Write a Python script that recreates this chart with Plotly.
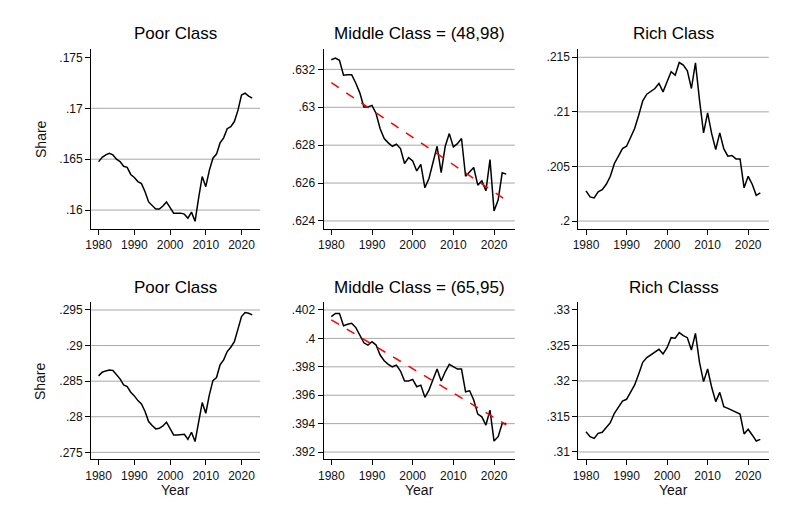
import numpy as np
import plotly.graph_objects as go

years = list(range(1980, 2024))

poor_top = [.16476, .16519, .16542, .16558, .16542, .16500, .16476, .16430, .16420, .16350,
            .16320, .16280, .16260, .16180, .16080, .16040, .16010, .16010, .16040, .16080,
            .16020, .15970, .15970, .15970, .15960, .15920, .15980, .15890, .16120, .16330,
            .16230, .16390, .16510, .16550, .16660, .16710, .16800, .16820, .16870, .16980,
            .17130, .17150, .17120, .17100]

middle_top = [.63251, .63260, .63248, .63169, .63172, .63172, .63128, .63076, .63002, .63002,
              .63010, .62967, .62887, .62835, .62812, .62794, .62805, .62782, .62703, .62734,
              .62717, .62664, .62699, .62575, .62624, .62706, .62794, .62655, .62794, .62861,
              .62791, .62808, .62835, .62636, .62662, .62682, .62589, .62611, .62559, .62724,
              .62453, .62510, .62654, .62647]

rich_top = [.20276, .20221, .20212, .20267, .20288, .20337, .20410, .20527, .20594, .20664,
            .20685, .20762, .20847, .20969, .21101, .21162, .21189, .21214, .21260, .21183,
            .21275, .21367, .21336, .21452, .21428, .21376, .21214, .21449, .21107, .20808,
            .20991, .20801, .20655, .20808, .20661, .20594, .20600, .20569, .20569, .20304,
            .20410, .20337, .20236, .20258]

poor_bot = [.28574, .28625, .28644, .28658, .28649, .28588, .28532, .28447, .28424, .28344,
            .28293, .28227, .28180, .28073, .27932, .27876, .27829, .27838, .27871, .27923,
            .27829, .27745, .27745, .27750, .27754, .27684, .27782, .27651, .27932, .28199,
            .28049, .28307, .28508, .28551, .28728, .28799, .28916, .28977, .29056, .29244,
            .29408, .29464, .29454, .29431]

middle_bot = [.40153, .40176, .40176, .40089, .40099, .40106, .40077, .40023, .39969, .39953,
              .39977, .39953, .39883, .39843, .39817, .39800, .39812, .39770, .39700, .39700,
              .39711, .39660, .39671, .39585, .39636, .39711, .39784, .39700, .39765, .39817,
              .39800, .39784, .39784, .39624, .39631, .39566, .39467, .39448, .39390, .39495,
              .39277, .39308, .39401, .39401]

rich_bot = [.31286, .31216, .31192, .31263, .31277, .31347, .31413, .31545, .31629, .31718,
            .31742, .31836, .31944, .32099, .32263, .32329, .32366, .32404, .32446, .32380,
            .32469, .32610, .32601, .32681, .32638, .32610, .32437, .32671, .32263, .31991,
            .32169, .31911, .31709, .31840, .31638, .31615, .31592, .31568, .31535, .31254,
            .31320, .31240, .31155, .31178]

titles = ["Poor Class", "Middle Class = (48,98)", "Rich Class",
          "Poor Class", "Middle Class = (65,95)", "Rich Classs"]

x_ticks = [1980, 1990, 2000, 2010, 2020]
x_ticktext = ["1980", "1990", "2000", "2010", "2020"]

y_ticks = [
    [.16, .165, .17, .175],
    [.624, .626, .628, .63, .632],
    [.2, .205, .21, .215],
    [.275, .28, .285, .29, .295],
    [.392, .394, .396, .398, .4, .402],
    [.31, .315, .32, .325, .33],
]
y_ticktext = [
    [".16", ".165", ".17", ".175"],
    [".624", ".626", ".628", ".63", ".632"],
    [".2", ".205", ".21", ".215"],
    [".275", ".28", ".285", ".29", ".295"],
    [".392", ".394", ".396", ".398", ".4", ".402"],
    [".31", ".315", ".32", ".325", ".33"],
]
grid_vals = [
    [.16, .165, .17],
    [.624, .626, .628, .63, .632],
    [.2, .205, .21, .215],
    [.275, .28, .285, .29, .295],
    [.392, .394, .396, .398, .4, .402],
    [.31, .315, .32, .325],
]

series = [poor_top, middle_top, rich_top, poor_bot, middle_bot, rich_bot]
show_fit = [False, True, False, False, True, False]

# layout geometry in screen pixels; page body has an 8px margin
OFF = 8
W, H = 777, 513
x_pix = [(85.7, 256.0), (320.0, 512.7), (576.7, 768.7)]
x_rng = [(1977.9, 2025.2), (1978.1, 2025.1), (1978.1, 2025.1)]
y_pix = [(49.3, 228.7), (302.3, 459.3)]
y_rng = [(.15817, .17580), (.62359, .63306), (.19930, .21573),
         (.27402, .29608), (.39149, .40254), (.30897, .33108)]


def px(v):
    return (v - OFF) / W


def py(v):
    return 1 - (v - OFF) / H


FONT = "Liberation Sans, Arial, sans-serif"
fig = go.Figure()
annotations = []
shapes = []

for i in range(6):
    r, c = divmod(i, 3)
    n = i + 1
    xa = "x" if n == 1 else f"x{n}"
    ya = "y" if n == 1 else f"y{n}"
    fig.add_trace(go.Scatter(x=years, y=series[i], mode="lines",
                             line=dict(color="black", width=1.5),
                             xaxis=xa, yaxis=ya, showlegend=False, hoverinfo="skip"))
    if show_fit[i]:
        b, a = np.polyfit(years, series[i], 1)
        fit = [a + b * yr for yr in years]
        fig.add_trace(go.Scatter(x=years, y=fit, mode="lines",
                                 line=dict(color="red", width=1.5, dash="dash"),
                                 xaxis=xa, yaxis=ya, showlegend=False, hoverinfo="skip"))
    xd = [px(x_pix[c][0]), px(x_pix[c][1])]
    yd = [py(y_pix[r][1]), py(y_pix[r][0])]
    axis_common = dict(showline=True, linecolor="black", linewidth=1,
                       ticks="outside", ticklen=5, tickcolor="black", tickwidth=1,
                       showgrid=False, zeroline=False,
                       tickfont=dict(family=FONT, size=12, color="#111"))
    fig.layout[f"xaxis{'' if n == 1 else n}"] = dict(
        domain=xd, range=list(x_rng[c]), anchor=ya,
        tickvals=x_ticks, ticktext=x_ticktext, **axis_common)
    fig.layout[f"yaxis{'' if n == 1 else n}"] = dict(
        domain=yd, range=list(y_rng[i]), anchor=xa,
        tickvals=y_ticks[i], ticktext=y_ticktext[i], **axis_common)
    for g in grid_vals[i]:
        shapes.append(dict(type="line", xref=f"{xa} domain", yref=ya,
                           x0=0, x1=1, y0=g, y1=g, layer="below",
                           line=dict(color="#a8a8a8", width=1)))
    # title
    annotations.append(dict(text=titles[i], xref="paper", yref="paper",
                            x=sum(xd) / 2, y=py(33.5 if r == 0 else 287.0),
                            xanchor="center", yanchor="middle", showarrow=False,
                            font=dict(family=FONT, size=17, color="black")))
    if c == 0:
        annotations.append(dict(text="Share", xref="paper", yref="paper",
                                x=px(35), y=py(139.2 if r == 0 else 381.3),
                                xanchor="center", yanchor="middle", showarrow=False,
                                textangle=-90,
                                font=dict(family=FONT, size=14, color="#111")))
    if r == 1:
        annotations.append(dict(text="Year", xref="paper", yref="paper",
                                x=sum(xd) / 2, y=py(490),
                                xanchor="center", yanchor="middle", showarrow=False,
                                font=dict(family=FONT, size=14, color="#111")))

fig.update_layout(width=W, height=H, margin=dict(l=0, r=0, t=0, b=0),
                  paper_bgcolor="white", plot_bgcolor="white",
                  annotations=annotations, shapes=shapes)

fig.write_html("out.html")
